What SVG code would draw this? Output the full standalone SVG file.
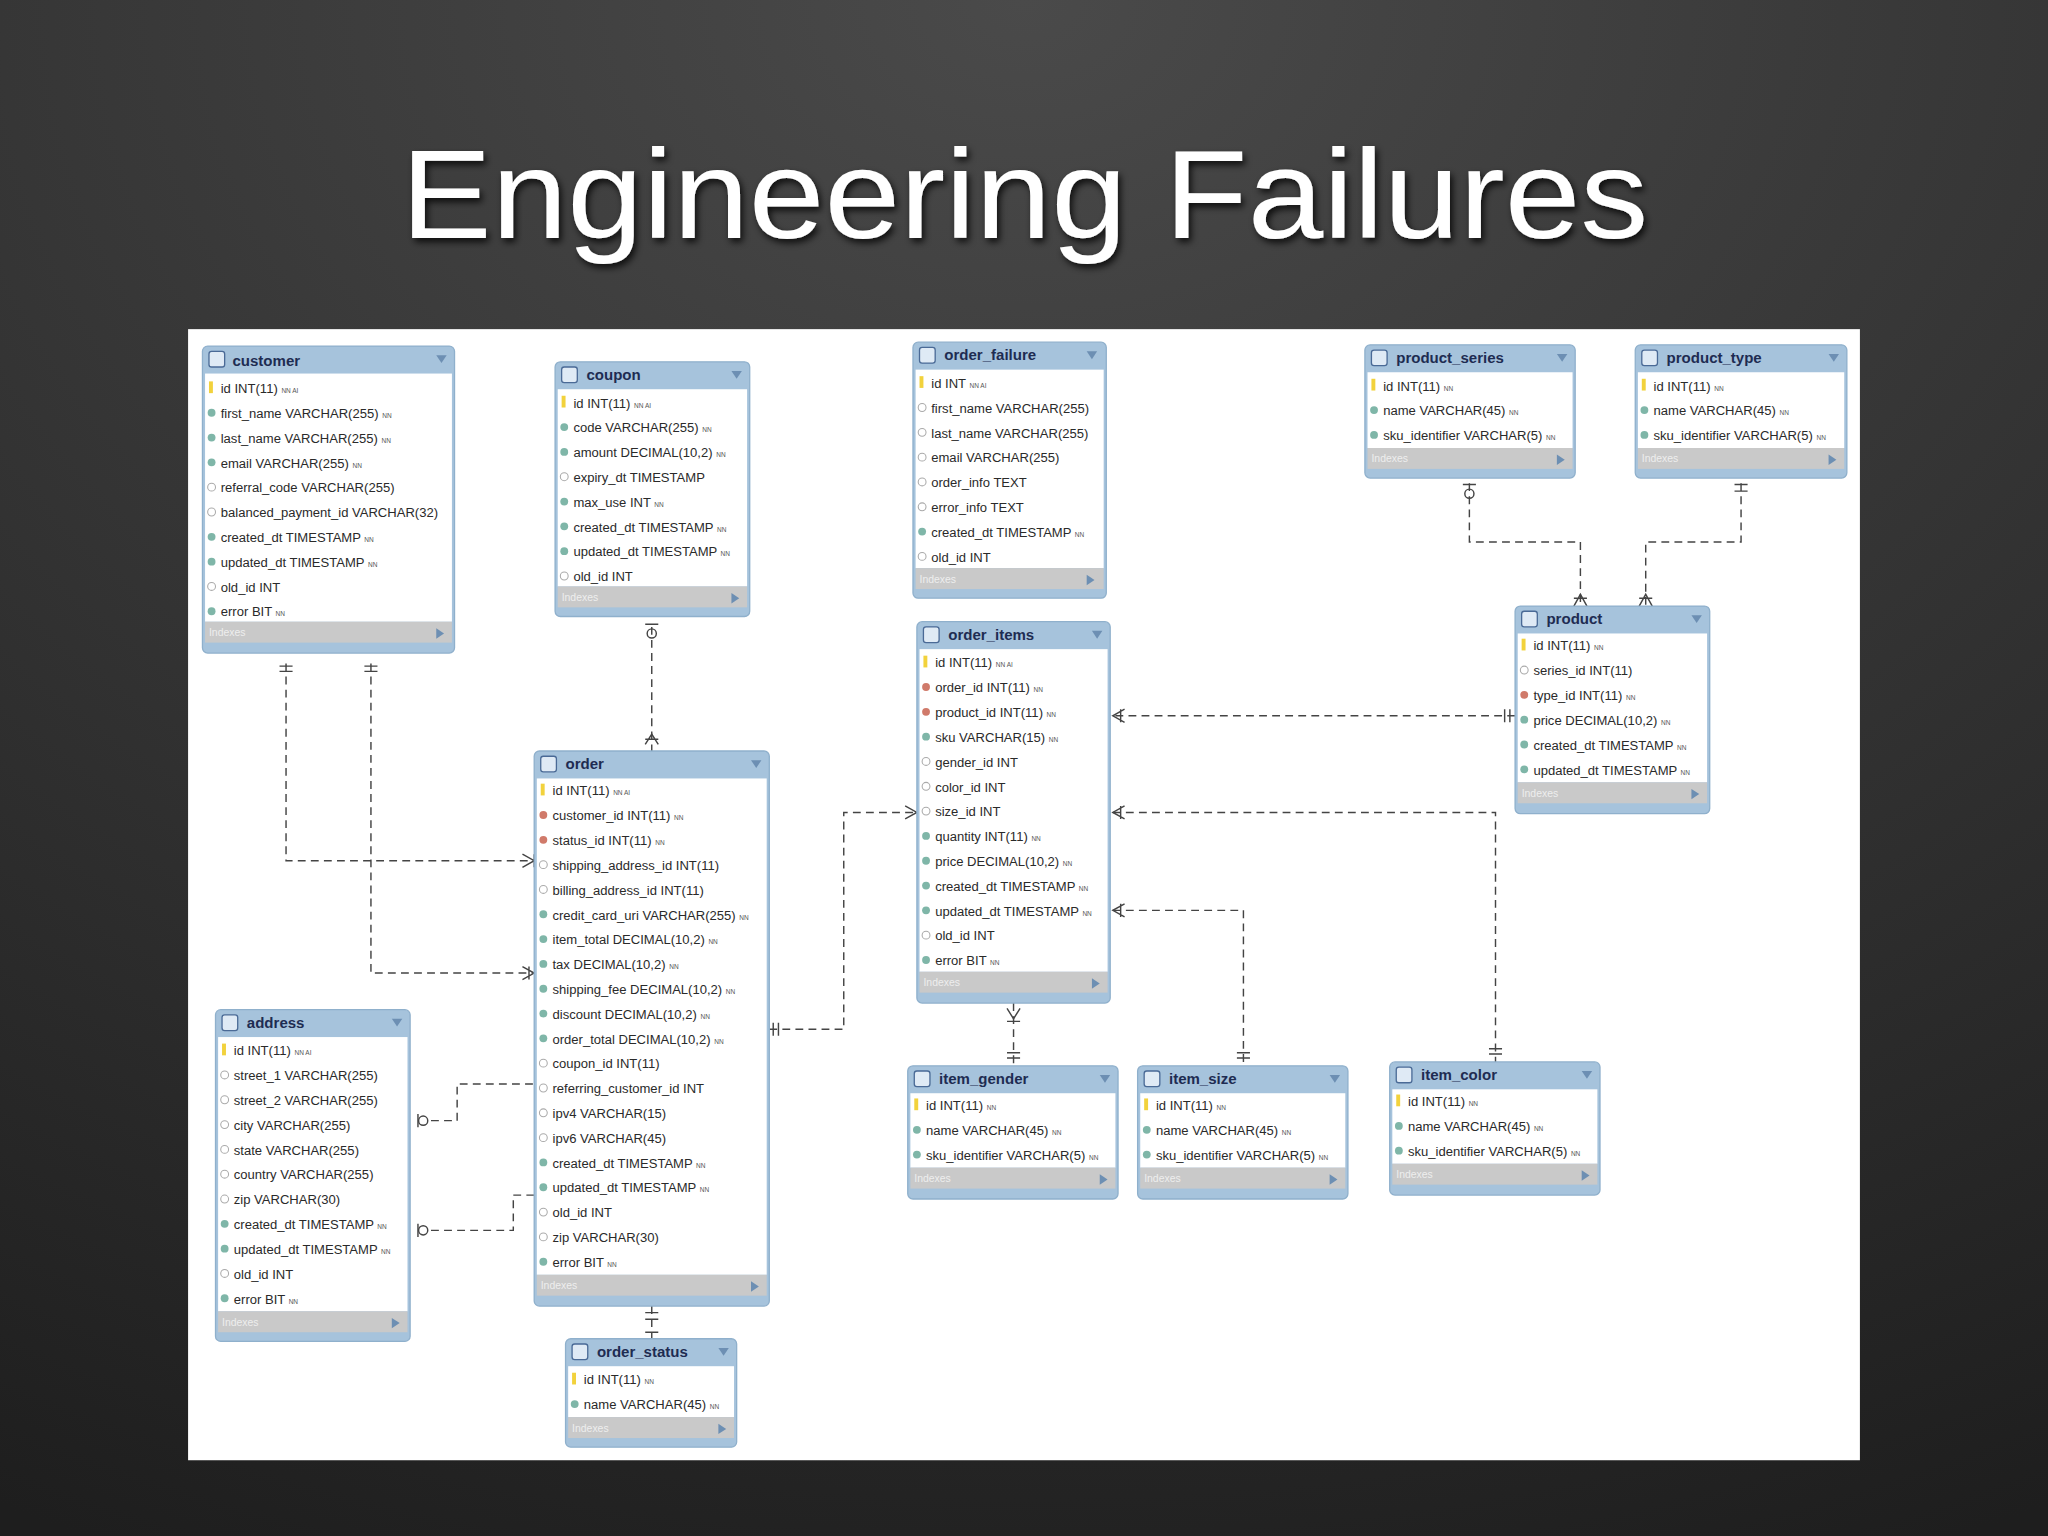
<svg xmlns="http://www.w3.org/2000/svg" width="2048" height="1536" viewBox="0 0 2048 1536">
<defs>
<radialGradient id="bg" cx="50%" cy="0%" r="110%"><stop offset="0" stop-color="#4a4a4a"/><stop offset="1" stop-color="#1e1e1e"/></radialGradient>
<filter id="sh"><feDropShadow dx="2" dy="3" stdDeviation="3" flood-color="#000" flood-opacity="0.8"/></filter>
<style>
.tb{fill:#a6c3dc;stroke:#8fb0cc;stroke-width:1}
.bd{fill:#fff}
.ix{fill:#c9c9c9}
.ic{fill:#dfeaf5;stroke:#4a6a96;stroke-width:1}
.th{font-family:"Liberation Sans",Arial,sans-serif;font-size:11.5px;font-weight:bold;fill:#1e2c52}
.r{font-family:"Liberation Sans",Arial,sans-serif;font-size:10px;fill:#2a2a2a}
.f{font-size:5px;fill:#555}
.it{font-family:"Liberation Sans",Arial,sans-serif;font-size:8px;fill:#eee}
.k{fill:#f2d23c}
.d{fill:#7fb6a8}
.e{fill:#fff;stroke:#aaa;stroke-width:0.8}
.x{fill:#d07a6a}
.c{fill:none;stroke:#444;stroke-width:1.1;stroke-dasharray:6,4}
.m{fill:none;stroke:#444;stroke-width:1.1}
.tr{fill:#6d8fb3}
</style>
</defs>
<rect width="2048" height="1536" fill="url(#bg)"/>
<g transform="scale(1.30612)">
<text x="307" y="182" textLength="955" lengthAdjust="spacingAndGlyphs" font-family="'Liberation Sans',Arial,sans-serif" font-size="97" fill="#fff" filter="url(#sh)">Engineering Failures</text>
<rect x="144" y="252" width="1280" height="866" fill="#fff"/>

<g id="connectors">
<path class="c" d="M219 508V659H409M284 508V745H409"/>
<path class="c" d="M499 480V575"/>
<path class="c" d="M589 788H646V622H702"/>
<path class="c" d="M330 858H350V830H409M330 942H393V915H409"/>
<path class="c" d="M499 1000V1025"/>
<path class="c" d="M1125 370V415H1210V464M1333 370V415H1260V464"/>
<path class="c" d="M1160 548H852"/>
<path class="c" d="M776 768V816"/>
<path class="c" d="M852 697H952V816"/>
<path class="c" d="M852 622H1145V813"/>
<path class="m" d="M214 510H224M214 514H224M279 510H289M279 514H289M400 654L409 659L400 664M400 740L409 745L400 750M409 654V664M405 740V750"/>
<circle class="m" cx="499" cy="485" r="3.5"/><path class="m" d="M494 478H504M494 570L499 562L504 570M494 566H504"/>
<path class="m" d="M693 617L702 622L693 627M596 783V793M592 783V793"/>
<circle class="m" cx="324" cy="858" r="3.5"/><circle class="m" cx="324" cy="942" r="3.5"/><path class="m" d="M320 853V863M320 937V947"/>
<path class="m" d="M494 1005H504M494 1010H504M494 1020H504"/>
<circle class="m" cx="1125" cy="378" r="3.5"/><path class="m" d="M1120 371H1130M1328 371H1338M1328 376H1338M1205 464L1210 455L1215 464M1205 458H1215M1255 464L1260 455L1265 464M1255 458H1265"/>
<path class="m" d="M861 543L852 548L861 553M858 543V553M1152 543V553M1156 543V553"/>
<path class="m" d="M771 772L776 780L781 772M771 782H781M771 806H781M771 810H781"/>
<path class="m" d="M861 692L852 697L861 702M858 692V702M947 806H957M947 810H957"/>
<path class="m" d="M861 617L852 622L861 627M858 617V627M1140 803H1150M1140 807H1150"/>
</g>

<g id="customer"><rect class="tb" x="155" y="265" width="193" height="235" rx="4"/><rect class="bd" x="157" y="286" width="189" height="190"/><rect class="ix" x="157" y="476" width="189" height="16"/><text class="it" x="160" y="487">Indexes</text><path class="tr" d="M334 481L340 485L334 489Z"/><rect class="ic" x="160" y="269" width="12" height="12" rx="2"/><text class="th" x="178" y="280">customer</text><path class="tr" d="M334 272H342L338 278Z"/>
<rect class="k" x="160" y="292" width="3" height="9"/><text class="r" x="169" y="301">id INT(11) <tspan class="f">NN AI</tspan></text>
<circle class="d" cx="162" cy="316" r="3"/><text class="r" x="169" y="320">first_name VARCHAR(255) <tspan class="f">NN</tspan></text>
<circle class="d" cx="162" cy="335" r="3"/><text class="r" x="169" y="339">last_name VARCHAR(255) <tspan class="f">NN</tspan></text>
<circle class="d" cx="162" cy="354" r="3"/><text class="r" x="169" y="358">email VARCHAR(255) <tspan class="f">NN</tspan></text>
<circle class="e" cx="162" cy="373" r="3"/><text class="r" x="169" y="377">referral_code VARCHAR(255)</text>
<circle class="e" cx="162" cy="392" r="3"/><text class="r" x="169" y="396">balanced_payment_id VARCHAR(32)</text>
<circle class="d" cx="162" cy="411" r="3"/><text class="r" x="169" y="415">created_dt TIMESTAMP <tspan class="f">NN</tspan></text>
<circle class="d" cx="162" cy="430" r="3"/><text class="r" x="169" y="434">updated_dt TIMESTAMP <tspan class="f">NN</tspan></text>
<circle class="e" cx="162" cy="449" r="3"/><text class="r" x="169" y="453">old_id INT</text>
<circle class="d" cx="162" cy="468" r="3"/><text class="r" x="169" y="472">error BIT <tspan class="f">NN</tspan></text>
</g>

<g id="coupon"><rect class="tb" x="425" y="277" width="149" height="195" rx="4"/><rect class="bd" x="427" y="298" width="145" height="151"/><rect class="ix" x="427" y="449" width="145" height="16"/><text class="it" x="430" y="460">Indexes</text><path class="tr" d="M560 454L566 458L560 462Z"/><rect class="ic" x="430" y="281" width="12" height="12" rx="2"/><text class="th" x="449" y="291">coupon</text><path class="tr" d="M560 284H568L564 290Z"/>
<rect class="k" x="430" y="303" width="3" height="9"/><text class="r" x="439" y="312">id INT(11) <tspan class="f">NN AI</tspan></text>
<circle class="d" cx="432" cy="327" r="3"/><text class="r" x="439" y="331">code VARCHAR(255) <tspan class="f">NN</tspan></text>
<circle class="d" cx="432" cy="346" r="3"/><text class="r" x="439" y="350">amount DECIMAL(10,2) <tspan class="f">NN</tspan></text>
<circle class="e" cx="432" cy="365" r="3"/><text class="r" x="439" y="369">expiry_dt TIMESTAMP</text>
<circle class="d" cx="432" cy="384" r="3"/><text class="r" x="439" y="388">max_use INT <tspan class="f">NN</tspan></text>
<circle class="d" cx="432" cy="403" r="3"/><text class="r" x="439" y="407">created_dt TIMESTAMP <tspan class="f">NN</tspan></text>
<circle class="d" cx="432" cy="422" r="3"/><text class="r" x="439" y="426">updated_dt TIMESTAMP <tspan class="f">NN</tspan></text>
<circle class="e" cx="432" cy="441" r="3"/><text class="r" x="439" y="445">old_id INT</text>
</g>

<g id="order_failure"><rect class="tb" x="699" y="262" width="148" height="196" rx="4"/><rect class="bd" x="701" y="283" width="144" height="152"/><rect class="ix" x="701" y="435" width="144" height="16"/><text class="it" x="704" y="446">Indexes</text><path class="tr" d="M832 440L838 444L832 448Z"/><rect class="ic" x="704" y="266" width="12" height="12" rx="2"/><text class="th" x="723" y="276">order_failure</text><path class="tr" d="M832 269H840L836 275Z"/>
<rect class="k" x="704" y="288" width="3" height="9"/><text class="r" x="713" y="297">id INT <tspan class="f">NN AI</tspan></text>
<circle class="e" cx="706" cy="312" r="3"/><text class="r" x="713" y="316">first_name VARCHAR(255)</text>
<circle class="e" cx="706" cy="331" r="3"/><text class="r" x="713" y="335">last_name VARCHAR(255)</text>
<circle class="e" cx="706" cy="350" r="3"/><text class="r" x="713" y="354">email VARCHAR(255)</text>
<circle class="e" cx="706" cy="369" r="3"/><text class="r" x="713" y="373">order_info TEXT</text>
<circle class="e" cx="706" cy="388" r="3"/><text class="r" x="713" y="392">error_info TEXT</text>
<circle class="d" cx="706" cy="407" r="3"/><text class="r" x="713" y="411">created_dt TIMESTAMP <tspan class="f">NN</tspan></text>
<circle class="e" cx="706" cy="426" r="3"/><text class="r" x="713" y="430">old_id INT</text>
</g>

<g id="product_series"><rect class="tb" x="1045" y="264" width="161" height="102" rx="4"/><rect class="bd" x="1047" y="285" width="157" height="58"/><rect class="ix" x="1047" y="343" width="157" height="16"/><text class="it" x="1050" y="354">Indexes</text><path class="tr" d="M1192 348L1198 352L1192 356Z"/><rect class="ic" x="1050" y="268" width="12" height="12" rx="2"/><text class="th" x="1069" y="278">product_series</text><path class="tr" d="M1192 271H1200L1196 277Z"/>
<rect class="k" x="1050" y="290" width="3" height="9"/><text class="r" x="1059" y="299">id INT(11) <tspan class="f">NN</tspan></text>
<circle class="d" cx="1052" cy="314" r="3"/><text class="r" x="1059" y="318">name VARCHAR(45) <tspan class="f">NN</tspan></text>
<circle class="d" cx="1052" cy="333" r="3"/><text class="r" x="1059" y="337">sku_identifier VARCHAR(5) <tspan class="f">NN</tspan></text>
</g>

<g id="product_type"><rect class="tb" x="1252" y="264" width="162" height="102" rx="4"/><rect class="bd" x="1254" y="285" width="158" height="58"/><rect class="ix" x="1254" y="343" width="158" height="16"/><text class="it" x="1257" y="354">Indexes</text><path class="tr" d="M1400 348L1406 352L1400 356Z"/><rect class="ic" x="1257" y="268" width="12" height="12" rx="2"/><text class="th" x="1276" y="278">product_type</text><path class="tr" d="M1400 271H1408L1404 277Z"/>
<rect class="k" x="1257" y="290" width="3" height="9"/><text class="r" x="1266" y="299">id INT(11) <tspan class="f">NN</tspan></text>
<circle class="d" cx="1259" cy="314" r="3"/><text class="r" x="1266" y="318">name VARCHAR(45) <tspan class="f">NN</tspan></text>
<circle class="d" cx="1259" cy="333" r="3"/><text class="r" x="1266" y="337">sku_identifier VARCHAR(5) <tspan class="f">NN</tspan></text>
</g>

<g id="order_items"><rect class="tb" x="702" y="476" width="148" height="292" rx="4"/><rect class="bd" x="704" y="497" width="144" height="247"/><rect class="ix" x="704" y="744" width="144" height="16"/><text class="it" x="707" y="755">Indexes</text><path class="tr" d="M836 749L842 753L836 757Z"/><rect class="ic" x="707" y="480" width="12" height="12" rx="2"/><text class="th" x="726" y="490">order_items</text><path class="tr" d="M836 483H844L840 489Z"/>
<rect class="k" x="707" y="502" width="3" height="9"/><text class="r" x="716" y="511">id INT(11) <tspan class="f">NN AI</tspan></text>
<circle class="x" cx="709" cy="526" r="3"/><text class="r" x="716" y="530">order_id INT(11) <tspan class="f">NN</tspan></text>
<circle class="x" cx="709" cy="545" r="3"/><text class="r" x="716" y="549">product_id INT(11) <tspan class="f">NN</tspan></text>
<circle class="d" cx="709" cy="564" r="3"/><text class="r" x="716" y="568">sku VARCHAR(15) <tspan class="f">NN</tspan></text>
<circle class="e" cx="709" cy="583" r="3"/><text class="r" x="716" y="587">gender_id INT</text>
<circle class="e" cx="709" cy="602" r="3"/><text class="r" x="716" y="606">color_id INT</text>
<circle class="e" cx="709" cy="621" r="3"/><text class="r" x="716" y="625">size_id INT</text>
<circle class="d" cx="709" cy="640" r="3"/><text class="r" x="716" y="644">quantity INT(11) <tspan class="f">NN</tspan></text>
<circle class="d" cx="709" cy="659" r="3"/><text class="r" x="716" y="663">price DECIMAL(10,2) <tspan class="f">NN</tspan></text>
<circle class="d" cx="709" cy="678" r="3"/><text class="r" x="716" y="682">created_dt TIMESTAMP <tspan class="f">NN</tspan></text>
<circle class="d" cx="709" cy="697" r="3"/><text class="r" x="716" y="701">updated_dt TIMESTAMP <tspan class="f">NN</tspan></text>
<circle class="e" cx="709" cy="716" r="3"/><text class="r" x="716" y="720">old_id INT</text>
<circle class="d" cx="709" cy="735" r="3"/><text class="r" x="716" y="739">error BIT <tspan class="f">NN</tspan></text>
</g>

<g id="product"><rect class="tb" x="1160" y="464" width="149" height="159" rx="4"/><rect class="bd" x="1162" y="485" width="145" height="114"/><rect class="ix" x="1162" y="599" width="145" height="16"/><text class="it" x="1165" y="610">Indexes</text><path class="tr" d="M1295 604L1301 608L1295 612Z"/><rect class="ic" x="1165" y="468" width="12" height="12" rx="2"/><text class="th" x="1184" y="478">product</text><path class="tr" d="M1295 471H1303L1299 477Z"/>
<rect class="k" x="1165" y="489" width="3" height="9"/><text class="r" x="1174" y="498">id INT(11) <tspan class="f">NN</tspan></text>
<circle class="e" cx="1167" cy="513" r="3"/><text class="r" x="1174" y="517">series_id INT(11)</text>
<circle class="x" cx="1167" cy="532" r="3"/><text class="r" x="1174" y="536">type_id INT(11) <tspan class="f">NN</tspan></text>
<circle class="d" cx="1167" cy="551" r="3"/><text class="r" x="1174" y="555">price DECIMAL(10,2) <tspan class="f">NN</tspan></text>
<circle class="d" cx="1167" cy="570" r="3"/><text class="r" x="1174" y="574">created_dt TIMESTAMP <tspan class="f">NN</tspan></text>
<circle class="d" cx="1167" cy="589" r="3"/><text class="r" x="1174" y="593">updated_dt TIMESTAMP <tspan class="f">NN</tspan></text>
</g>

<g id="order"><rect class="tb" x="409" y="575" width="180" height="425" rx="4"/><rect class="bd" x="411" y="596" width="176" height="380"/><rect class="ix" x="411" y="976" width="176" height="16"/><text class="it" x="414" y="987">Indexes</text><path class="tr" d="M575 981L581 985L575 989Z"/><rect class="ic" x="414" y="579" width="12" height="12" rx="2"/><text class="th" x="433" y="589">order</text><path class="tr" d="M575 582H583L579 588Z"/>
<rect class="k" x="414" y="600" width="3" height="9"/><text class="r" x="423" y="609">id INT(11) <tspan class="f">NN AI</tspan></text>
<circle class="x" cx="416" cy="624" r="3"/><text class="r" x="423" y="628">customer_id INT(11) <tspan class="f">NN</tspan></text>
<circle class="x" cx="416" cy="643" r="3"/><text class="r" x="423" y="647">status_id INT(11) <tspan class="f">NN</tspan></text>
<circle class="e" cx="416" cy="662" r="3"/><text class="r" x="423" y="666">shipping_address_id INT(11)</text>
<circle class="e" cx="416" cy="681" r="3"/><text class="r" x="423" y="685">billing_address_id INT(11)</text>
<circle class="d" cx="416" cy="700" r="3"/><text class="r" x="423" y="704">credit_card_uri VARCHAR(255) <tspan class="f">NN</tspan></text>
<circle class="d" cx="416" cy="719" r="3"/><text class="r" x="423" y="723">item_total DECIMAL(10,2) <tspan class="f">NN</tspan></text>
<circle class="d" cx="416" cy="738" r="3"/><text class="r" x="423" y="742">tax DECIMAL(10,2) <tspan class="f">NN</tspan></text>
<circle class="d" cx="416" cy="757" r="3"/><text class="r" x="423" y="761">shipping_fee DECIMAL(10,2) <tspan class="f">NN</tspan></text>
<circle class="d" cx="416" cy="776" r="3"/><text class="r" x="423" y="780">discount DECIMAL(10,2) <tspan class="f">NN</tspan></text>
<circle class="d" cx="416" cy="795" r="3"/><text class="r" x="423" y="799">order_total DECIMAL(10,2) <tspan class="f">NN</tspan></text>
<circle class="e" cx="416" cy="814" r="3"/><text class="r" x="423" y="818">coupon_id INT(11)</text>
<circle class="e" cx="416" cy="833" r="3"/><text class="r" x="423" y="837">referring_customer_id INT</text>
<circle class="e" cx="416" cy="852" r="3"/><text class="r" x="423" y="856">ipv4 VARCHAR(15)</text>
<circle class="e" cx="416" cy="871" r="3"/><text class="r" x="423" y="875">ipv6 VARCHAR(45)</text>
<circle class="d" cx="416" cy="890" r="3"/><text class="r" x="423" y="894">created_dt TIMESTAMP <tspan class="f">NN</tspan></text>
<circle class="d" cx="416" cy="909" r="3"/><text class="r" x="423" y="913">updated_dt TIMESTAMP <tspan class="f">NN</tspan></text>
<circle class="e" cx="416" cy="928" r="3"/><text class="r" x="423" y="932">old_id INT</text>
<circle class="e" cx="416" cy="947" r="3"/><text class="r" x="423" y="951">zip VARCHAR(30)</text>
<circle class="d" cx="416" cy="966" r="3"/><text class="r" x="423" y="970">error BIT <tspan class="f">NN</tspan></text>
</g>

<g id="address"><rect class="tb" x="165" y="773" width="149" height="254" rx="4"/><rect class="bd" x="167" y="794" width="145" height="210"/><rect class="ix" x="167" y="1004" width="145" height="16"/><text class="it" x="170" y="1015">Indexes</text><path class="tr" d="M300 1009L306 1013L300 1017Z"/><rect class="ic" x="170" y="777" width="12" height="12" rx="2"/><text class="th" x="189" y="787">address</text><path class="tr" d="M300 780H308L304 786Z"/>
<rect class="k" x="170" y="799" width="3" height="9"/><text class="r" x="179" y="808">id INT(11) <tspan class="f">NN AI</tspan></text>
<circle class="e" cx="172" cy="823" r="3"/><text class="r" x="179" y="827">street_1 VARCHAR(255)</text>
<circle class="e" cx="172" cy="842" r="3"/><text class="r" x="179" y="846">street_2 VARCHAR(255)</text>
<circle class="e" cx="172" cy="861" r="3"/><text class="r" x="179" y="865">city VARCHAR(255)</text>
<circle class="e" cx="172" cy="880" r="3"/><text class="r" x="179" y="884">state VARCHAR(255)</text>
<circle class="e" cx="172" cy="899" r="3"/><text class="r" x="179" y="903">country VARCHAR(255)</text>
<circle class="e" cx="172" cy="918" r="3"/><text class="r" x="179" y="922">zip VARCHAR(30)</text>
<circle class="d" cx="172" cy="937" r="3"/><text class="r" x="179" y="941">created_dt TIMESTAMP <tspan class="f">NN</tspan></text>
<circle class="d" cx="172" cy="956" r="3"/><text class="r" x="179" y="960">updated_dt TIMESTAMP <tspan class="f">NN</tspan></text>
<circle class="e" cx="172" cy="975" r="3"/><text class="r" x="179" y="979">old_id INT</text>
<circle class="d" cx="172" cy="994" r="3"/><text class="r" x="179" y="998">error BIT <tspan class="f">NN</tspan></text>
</g>

<g id="item_gender"><rect class="tb" x="695" y="816" width="161" height="102" rx="4"/><rect class="bd" x="697" y="837" width="157" height="57"/><rect class="ix" x="697" y="894" width="157" height="16"/><text class="it" x="700" y="905">Indexes</text><path class="tr" d="M842 899L848 903L842 907Z"/><rect class="ic" x="700" y="820" width="12" height="12" rx="2"/><text class="th" x="719" y="830">item_gender</text><path class="tr" d="M842 823H850L846 829Z"/>
<rect class="k" x="700" y="841" width="3" height="9"/><text class="r" x="709" y="850">id INT(11) <tspan class="f">NN</tspan></text>
<circle class="d" cx="702" cy="865" r="3"/><text class="r" x="709" y="869">name VARCHAR(45) <tspan class="f">NN</tspan></text>
<circle class="d" cx="702" cy="884" r="3"/><text class="r" x="709" y="888">sku_identifier VARCHAR(5) <tspan class="f">NN</tspan></text>
</g>

<g id="item_size"><rect class="tb" x="871" y="816" width="161" height="102" rx="4"/><rect class="bd" x="873" y="837" width="157" height="57"/><rect class="ix" x="873" y="894" width="157" height="16"/><text class="it" x="876" y="905">Indexes</text><path class="tr" d="M1018 899L1024 903L1018 907Z"/><rect class="ic" x="876" y="820" width="12" height="12" rx="2"/><text class="th" x="895" y="830">item_size</text><path class="tr" d="M1018 823H1026L1022 829Z"/>
<rect class="k" x="876" y="841" width="3" height="9"/><text class="r" x="885" y="850">id INT(11) <tspan class="f">NN</tspan></text>
<circle class="d" cx="878" cy="865" r="3"/><text class="r" x="885" y="869">name VARCHAR(45) <tspan class="f">NN</tspan></text>
<circle class="d" cx="878" cy="884" r="3"/><text class="r" x="885" y="888">sku_identifier VARCHAR(5) <tspan class="f">NN</tspan></text>
</g>

<g id="item_color"><rect class="tb" x="1064" y="813" width="161" height="102" rx="4"/><rect class="bd" x="1066" y="834" width="157" height="57"/><rect class="ix" x="1066" y="891" width="157" height="16"/><text class="it" x="1069" y="902">Indexes</text><path class="tr" d="M1211 896L1217 900L1211 904Z"/><rect class="ic" x="1069" y="817" width="12" height="12" rx="2"/><text class="th" x="1088" y="827">item_color</text><path class="tr" d="M1211 820H1219L1215 826Z"/>
<rect class="k" x="1069" y="838" width="3" height="9"/><text class="r" x="1078" y="847">id INT(11) <tspan class="f">NN</tspan></text>
<circle class="d" cx="1071" cy="862" r="3"/><text class="r" x="1078" y="866">name VARCHAR(45) <tspan class="f">NN</tspan></text>
<circle class="d" cx="1071" cy="881" r="3"/><text class="r" x="1078" y="885">sku_identifier VARCHAR(5) <tspan class="f">NN</tspan></text>
</g>

<g id="order_status"><rect class="tb" x="433" y="1025" width="131" height="83" rx="4"/><rect class="bd" x="435" y="1046" width="127" height="39"/><rect class="ix" x="435" y="1085" width="127" height="16"/><text class="it" x="438" y="1096">Indexes</text><path class="tr" d="M550 1090L556 1094L550 1098Z"/><rect class="ic" x="438" y="1029" width="12" height="12" rx="2"/><text class="th" x="457" y="1039">order_status</text><path class="tr" d="M550 1032H558L554 1038Z"/>
<rect class="k" x="438" y="1051" width="3" height="9"/><text class="r" x="447" y="1060">id INT(11) <tspan class="f">NN</tspan></text>
<circle class="d" cx="440" cy="1075" r="3"/><text class="r" x="447" y="1079">name VARCHAR(45) <tspan class="f">NN</tspan></text>
</g>
</g>
</svg>
